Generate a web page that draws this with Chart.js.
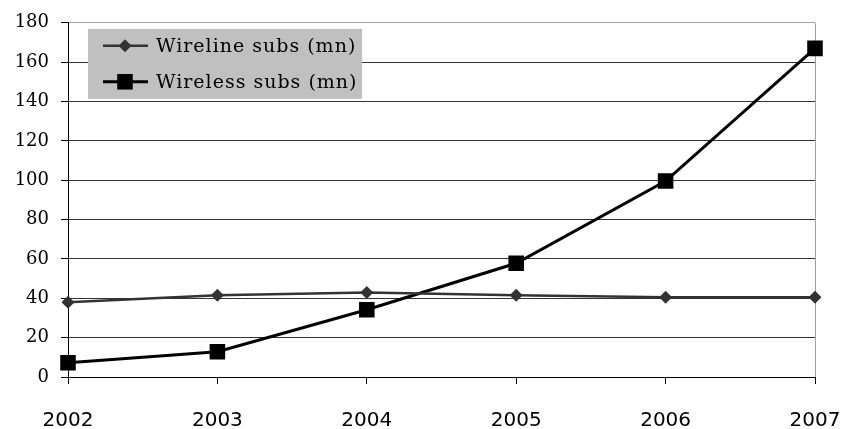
<!DOCTYPE html>
<html lang="en">
<head>
    <meta charset="UTF-8">
    <title>Wireline vs Wireless subs</title>
    <style>
        html, body { margin: 0; padding: 0; background: #fff; }
        #wrap { width: 842px; height: 429px; }
    </style>
</head>
<body>
    <div id="wrap"><canvas id="subsChart" width="842" height="429"></canvas></div>

    <script src="https://cdn.jsdelivr.net/npm/chart.js"></script>
    <script>
    const years = ['2002', '2003', '2004', '2005', '2006', '2007'];
    const wireline = [38, 41.5, 43, 41.5, 40.5, 40.5];
    const wireless = [7.2, 12.8, 34.2, 57.8, 99.6, 167];
    const yTicks = [0, 20, 40, 60, 80, 100, 120, 140, 160, 180];

    // legend drawn inside the plot, on a grey box
    const insideLegend = {
        id: 'insideLegend',
        afterDraw(chart) {
            const ctx = chart.ctx;
            const area = chart.chartArea;
            const x0 = area.left + 20, y0 = area.top + 6;
            ctx.save();
            ctx.fillStyle = '#c0c0c0';
            ctx.fillRect(x0, y0, 274, 70);
            chart.data.datasets.forEach((ds, i) => {
                const cy = y0 + 17 + i * 36;
                const mx = x0 + 37;
                ctx.strokeStyle = ds.borderColor;
                ctx.lineWidth = ds.borderWidth;
                ctx.beginPath();
                ctx.moveTo(x0 + 15, cy);
                ctx.lineTo(x0 + 60, cy);
                ctx.stroke();
                ctx.fillStyle = ds.pointBackgroundColor;
                const r = ds.pointRadius;
                ctx.beginPath();
                if (ds.pointStyle === 'rect') {
                    const s = r * Math.SQRT1_2;
                    ctx.fillRect(mx - s, cy - s, 2 * s, 2 * s);
                } else {
                    ctx.moveTo(mx, cy - r);
                    ctx.lineTo(mx + r, cy);
                    ctx.lineTo(mx, cy + r);
                    ctx.lineTo(mx - r, cy);
                    ctx.closePath();
                    ctx.fill();
                }
                ctx.fillStyle = '#000';
                ctx.font = '19px "DejaVu Serif"';
                ctx.letterSpacing = '1px';
                ctx.textBaseline = 'middle';
                ctx.fillText(ds.label, x0 + 68, cy + 1);
            });
            ctx.restore();
        }
    };

    new Chart(document.getElementById('subsChart'), {
        type: 'line',
        data: {
            labels: years,
            datasets: [{
                label: 'Wireline subs (mn)',
                data: wireline,
                borderColor: '#333333',
                borderWidth: 2.5,
                pointStyle: 'rectRot',
                pointRadius: 6.5,
                pointBackgroundColor: '#333333',
                pointBorderWidth: 0,
                tension: 0
            }, {
                label: 'Wireless subs (mn)',
                data: wireless,
                borderColor: '#000000',
                borderWidth: 3,
                pointStyle: 'rect',
                pointRadius: 11,
                pointBackgroundColor: '#000000',
                pointBorderWidth: 0,
                tension: 0
            }]
        },
        options: {
            responsive: false,
            animation: false,
            layout: { padding: { top: 21, right: 27, left: 0, bottom: 0 } },
            plugins: {
                legend: { display: false },
                tooltip: { enabled: false }
            },
            scales: {
                x: {
                    offset: false,
                    grid: {
                        color: c => c.index === years.length - 1 ? '#a0a0a0' : 'rgba(0,0,0,0)',
                        tickColor: '#000',
                        tickLength: 7,
                        lineWidth: 1
                    },
                    border: { color: '#000', width: 1 },
                    ticks: {
                        color: '#000',
                        font: { family: '"DejaVu Sans"', size: 20 },
                        padding: 25,
                        maxRotation: 0
                    },
                    afterFit: s => {
                        s.height = 52;
                        // let the end labels hang past the plot edge
                        s.paddingLeft = 0;
                        s.paddingRight = 0;
                    }
                },
                y: {
                    min: 0,
                    max: 180,
                    afterBuildTicks: s => { s.ticks = yTicks.map(v => ({ value: v })); },
                    grid: {
                        color: c => c.tick && c.tick.value === 180 ? '#a0a0a0' : '#333333',
                        tickColor: '#000',
                        tickLength: 7,
                        lineWidth: 1
                    },
                    border: { color: '#000', width: 1 },
                    ticks: {
                        color: '#000',
                        font: { family: '"DejaVu Serif"', size: 18 },
                        padding: 12
                    },
                    afterFit: s => { s.width = 68; }
                }
            }
        },
        plugins: [insideLegend]
    });
    </script>
</body>
</html>
